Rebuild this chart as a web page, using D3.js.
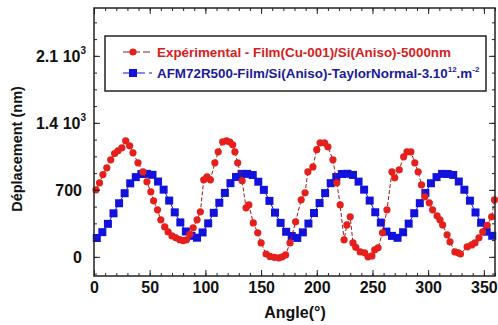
<!DOCTYPE html>
<html><head><meta charset="utf-8">
<script src="https://cdn.jsdelivr.net/npm/d3@7"></script>
<style>
body{margin:0;background:#fff}
svg{display:block}
text{font-family:"Liberation Sans",Arial,sans-serif;font-weight:bold;fill:#111}
</style>
</head><body>
<svg id="c" width="498" height="325"></svg>
<script>
// ---- data ----
const expAngles = [1.8,5,8,11.5,15,18.5,21.5,25,28.5,32,
  35,39.5,44,47.5,51,53.5,57,60,63.5,66.5,
  70,73.5,77,80,83,86,89,92.5,95.5,98.5,
  101.5,104.5,108.5,111.5,115.5,119,122,124.5,126.5,129,
  133,136.5,139,143,147,150,154.5,158,162,166,
  169,172,176,181,186,189.5,192,196.5,200,203,
  207,210,214.5,218,221,224.5,227,230,232.5,235,
  239,243,246,249.5,252,255,259,263,267.5,270,
  274,278,281,284.5,288,291,294,297,301,304,
  308,310.6,313,317,319.6,324,327,329,335,339,
  342,345.6,349,353,357,359.5];
const expValues = [700,773,860,930,1014,1080,1108,1139,1212,1160,
  1087,982,888,784,679,585,491,387,313,261,
  219,199,180,170,178,235,303,387,470,805,
  836,805,982,1097,1202,1212,1200,1170,1097,982,
  794,512,543,355,251,146,30,5,-5,-10,
  0,20,146,366,596,669,888,940,1120,1191,
  1191,1150,1014,773,543,178,334,418,146,100,
  52,42,0,10,73,94,251,491,888,826,
  909,1045,1097,1097,982,888,752,627,564,491,
  428,387,334,230,157,52,42,30,104,125,
  146,199,261,330,418,596];
const simAngles = [2.5,7.5,12.5,17.5,22.5,27.5,32.5,37.5,42.5,47.5,52.5,57.5,62.5,67.5,72.5,77.5,82.5,87.5,
  92.5,97.5,102.5,107.5,112.5,117.5,122.5,127.5,132.5,137.5,142.5,147.5,152.5,157.5,162.5,167.5,172.5,177.5,
  182.5,187.5,192.5,197.5,202.5,207.5,212.5,217.5,222.5,227.5,232.5,237.5,242.5,247.5,252.5,257.5,262.5,267.5,
  272.5,277.5,282.5,287.5,292.5,297.5,302.5,307.5,312.5,317.5,322.5,327.5,332.5,337.5,342.5,347.5,352.5,357.5];
const simValues = [197,258,345,455,560,665,768,833,866,867,857,787,702,588,465,360,265,220,
  200,255,350,460,565,668,770,835,867,867,855,785,700,585,462,355,262,218,
  198,256,348,458,562,666,770,834,866,868,856,786,702,588,466,358,264,219,
  199,257,347,456,561,667,769,833,867,866,856,787,701,587,464,357,263,220];
const xTickValues = [0,50,100,150,200,250,300,350];
const yTickValues = [0,700,1400,2100];
const yTickMain = ["0","700","1.4 10","2.1 10"];
const yTickExp = ["","","3","3"];
const seriesNames = ["Expérimental - Film(Cu-001)/Si(Aniso)-5000nm","AFM72R500-Film/Si(Aniso)-TaylorNormal-3.10"];

// ---- chart ----
const svg = d3.select("#c");
const x = d3.scaleLinear().domain([0,360]).range([94,495]);
const y = d3.scaleLinear().domain([-200,2600]).range([276,8]);
const [x0,x1] = x.range(), [y0,y1] = y.range();

const red = "#e41f1c", blue = "#1212dc";
const sq = 8;

// series
const simData = simAngles.map((a,i)=>({a,v:simValues[i]}));
const expData = expAngles.map((a,i)=>({a,v:expValues[i]}));
const line = d3.line().x(d=>x(d.a)).y(d=>y(d.v));

svg.append("path").datum(simData).attr("d",line)
  .attr("fill","none").attr("stroke",blue).attr("stroke-width",1);
svg.append("g").selectAll("rect").data(simData).join("rect")
  .attr("x",d=>x(d.a)-sq/2).attr("y",d=>y(d.v)-sq/2)
  .attr("width",sq).attr("height",sq).attr("fill",blue);

svg.append("path").datum(expData).attr("d",line)
  .attr("fill","none").attr("stroke","#9a1a1a").attr("stroke-width",1)
  .attr("stroke-dasharray","4,2");
svg.append("g").selectAll("circle").data(expData).join("circle")
  .attr("cx",d=>x(d.a)).attr("cy",d=>y(d.v)).attr("r",3.6).attr("fill",red);

// axes frame
const minorX = d3.range(0,361,10);
const minorY = d3.range(-175,2600,175);
function clean(g){ g.select(".domain").remove(); g.selectAll("line").attr("stroke","#222").attr("stroke-width",1); }

svg.append("g").attr("transform",`translate(0,${y0})`)
  .call(d3.axisBottom(x).tickValues(minorX).tickSize(-3).tickFormat("")).call(clean);
svg.append("g").attr("transform",`translate(0,${y0})`)
  .call(d3.axisBottom(x).tickValues(xTickValues).tickSize(-6).tickPadding(6).tickFormat(d3.format("d")))
  .call(clean)
  .call(g=>g.selectAll("text").attr("font-size",16).attr("fill","#111").attr("font-family","Liberation Sans, Arial, sans-serif").attr("font-weight","bold"));
svg.append("g").attr("transform",`translate(0,${y1})`)
  .call(d3.axisTop(x).tickValues(minorX).tickSize(-3).tickFormat("")).call(clean);
svg.append("g").attr("transform",`translate(0,${y1})`)
  .call(d3.axisTop(x).tickValues(xTickValues).tickSize(-6).tickFormat("")).call(clean);

svg.append("g").attr("transform",`translate(${x0},0)`)
  .call(d3.axisLeft(y).tickValues(minorY).tickSize(-3).tickFormat("")).call(clean);
svg.append("g").attr("transform",`translate(${x0},0)`)
  .call(d3.axisLeft(y).tickValues(yTickValues).tickSize(-6).tickFormat("")).call(clean);
svg.append("g").attr("transform",`translate(${x1},0)`)
  .call(d3.axisRight(y).tickValues(minorY).tickSize(-3).tickFormat("")).call(clean);
svg.append("g").attr("transform",`translate(${x1},0)`)
  .call(d3.axisRight(y).tickValues(yTickValues).tickSize(-6).tickFormat("")).call(clean);

svg.append("rect").attr("x",x0).attr("y",y1).attr("width",x1-x0).attr("height",y0-y1)
  .attr("fill","none").attr("stroke","#222").attr("stroke-width",1.5);

// y tick labels
yTickValues.forEach((v,i)=>{
  const t = svg.append("text").attr("x", yTickExp[i] ? 86 : 82).attr("y", y(v)).attr("dy","0.36em")
    .attr("text-anchor","end").attr("font-size",16);
  t.append("tspan").text(yTickMain[i]);
  if (yTickExp[i]) t.append("tspan").attr("font-size",10).attr("dy","-0.75em").text(yTickExp[i]);
});

// axis titles
svg.append("text").attr("x",295).attr("y",318).attr("text-anchor","middle").attr("font-size",16).text("Angle(°)");
svg.append("text").attr("transform","translate(22,149) rotate(-90)").attr("text-anchor","middle")
  .attr("font-size",14.5).text("Déplacement (nm)");

// legend
svg.append("rect").attr("x",105).attr("y",36).attr("width",381).attr("height",55)
  .attr("fill","#fff").attr("stroke","#222").attr("stroke-width",1.5);
svg.append("line").attr("x1",123).attr("x2",152).attr("y1",52).attr("y2",52)
  .attr("stroke","#9a1a1a").attr("stroke-width",1.2).attr("stroke-dasharray","7,3");
svg.append("circle").attr("cx",133).attr("cy",52).attr("r",3.6).attr("fill",red);
svg.append("text").attr("x",157).attr("y",56.5).attr("font-size",13.4).style("fill","#d8201c").text(seriesNames[0]);

svg.append("line").attr("x1",123).attr("x2",152).attr("y1",73).attr("y2",73)
  .attr("stroke",blue).attr("stroke-width",1.2).attr("stroke-dasharray","9,4");
svg.append("rect").attr("x",133-sq/2).attr("y",73-sq/2).attr("width",sq).attr("height",sq).attr("fill",blue);
const bt = svg.append("text").attr("x",157).attr("y",77.5).attr("font-size",13.4).style("fill","#1a1a9c");
bt.append("tspan").text(seriesNames[1]);
bt.append("tspan").attr("font-size",8).attr("dy",-6).text("12");
bt.append("tspan").attr("font-size",13.4).attr("dy",6).text(".m");
bt.append("tspan").attr("font-size",8).attr("dy",-6).text("-2");
</script>
</body></html>
